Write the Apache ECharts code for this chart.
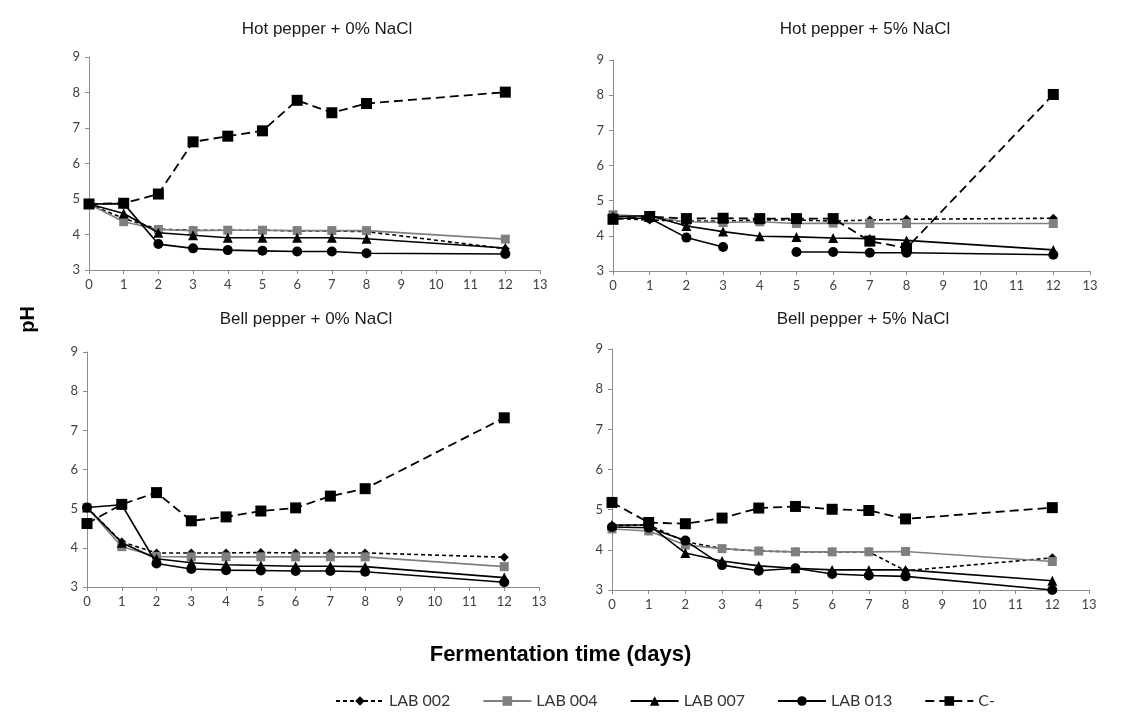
<!DOCTYPE html>
<html>
<head>
<meta charset="utf-8">
<title>pH during fermentation</title>
<script src="https://cdn.jsdelivr.net/npm/echarts@6.0.0/dist/echarts.min.js"></script>
<style>
  html, body { margin: 0; padding: 0; background: #ffffff; }
  #chart { width: 1121px; height: 725px; }
</style>
</head>
<body>
<div id="chart"></div>
<script>
// Sampling days
const days = [0, 1, 2, 3, 4, 5, 6, 7, 8, 12];

// Series names (strains and control)
const seriesNames = ['LAB 002', 'LAB 004', 'LAB 007', 'LAB 013', 'C-'];

// Panel titles
const panelTitles = [
  'Hot pepper + 0% NaCl',
  'Hot pepper + 5% NaCl',
  'Bell pepper + 0% NaCl',
  'Bell pepper + 5% NaCl'
];

// Hot pepper + 0% NaCl
const hot0_lab002 = [4.86, 4.45, 4.15, 4.12, 4.12, 4.12, 4.10, 4.10, 4.08, 3.60];
const hot0_lab004 = [4.86, 4.36, 4.14, 4.11, 4.12, 4.12, 4.11, 4.11, 4.11, 3.87];
const hot0_lab007 = [4.86, 4.59, 4.05, 3.98, 3.91, 3.91, 3.91, 3.91, 3.88, 3.62];
const hot0_lab013 = [4.86, 4.87, 3.73, 3.61, 3.56, 3.54, 3.52, 3.52, 3.47, 3.45];
const hot0_ctrl   = [4.86, 4.88, 5.14, 6.61, 6.77, 6.92, 7.78, 7.43, 7.69, 8.01];

// Hot pepper + 5% NaCl (LAB 013 has no reading on day 4)
const hot5_lab002 = [4.50, 4.45, 4.42, 4.42, 4.45, 4.45, 4.42, 4.45, 4.47, 4.50];
const hot5_lab004 = [4.60, 4.55, 4.40, 4.38, 4.40, 4.35, 4.36, 4.35, 4.35, 4.35];
const hot5_lab007 = [4.55, 4.57, 4.28, 4.12, 3.99, 3.97, 3.94, 3.92, 3.87, 3.60];
const hot5_lab013 = [4.50, 4.50, 3.95, 3.68, null, 3.54, 3.54, 3.52, 3.52, 3.46];
const hot5_ctrl   = [4.47, 4.55, 4.49, 4.50, 4.49, 4.49, 4.49, 3.85, 3.65, 8.02];

// Bell pepper + 0% NaCl
const bell0_lab002 = [5.03, 4.15, 3.87, 3.87, 3.87, 3.88, 3.87, 3.87, 3.87, 3.76];
const bell0_lab004 = [5.03, 4.03, 3.78, 3.77, 3.77, 3.77, 3.77, 3.77, 3.77, 3.52];
const bell0_lab007 = [5.03, 4.13, 3.72, 3.62, 3.57, 3.55, 3.53, 3.53, 3.52, 3.24];
const bell0_lab013 = [5.03, 5.10, 3.60, 3.46, 3.43, 3.42, 3.41, 3.41, 3.39, 3.12];
const bell0_ctrl   = [4.62, 5.11, 5.41, 4.69, 4.79, 4.94, 5.02, 5.32, 5.51, 7.32];

// Bell pepper + 5% NaCl
const bell5_lab002 = [4.60, 4.62, 4.20, 4.03, 3.97, 3.95, 3.95, 3.95, 3.48, 3.80];
const bell5_lab004 = [4.52, 4.47, 4.12, 4.03, 3.97, 3.95, 3.95, 3.95, 3.96, 3.71];
const bell5_lab007 = [4.62, 4.62, 3.92, 3.72, 3.60, 3.54, 3.50, 3.50, 3.50, 3.23];
const bell5_lab013 = [4.57, 4.55, 4.23, 3.62, 3.48, 3.54, 3.40, 3.36, 3.34, 3.00];
const bell5_ctrl   = [5.18, 4.68, 4.65, 4.79, 5.04, 5.08, 5.01, 4.98, 4.77, 5.05];

const panels = [
  [hot0_lab002, hot0_lab004, hot0_lab007, hot0_lab013, hot0_ctrl],
  [hot5_lab002, hot5_lab004, hot5_lab007, hot5_lab013, hot5_ctrl],
  [bell0_lab002, bell0_lab004, bell0_lab007, bell0_lab013, bell0_ctrl],
  [bell5_lab002, bell5_lab004, bell5_lab007, bell5_lab013, bell5_ctrl]
];

// Plot areas of the four panels
const grids = [
  { left: 89,  top: 57,  width: 451, height: 213 },
  { left: 613, top: 60,  width: 477, height: 211 },
  { left: 87,  top: 352, width: 452, height: 235 },
  { left: 612, top: 349, width: 477, height: 241 }
];

// Marker and line look per series
const styles = [
  { symbol: 'diamond',  size: 9,  color: '#000000', type: [4, 3],  width: 1.6 },
  { symbol: 'rect',     size: 9,  color: '#7f7f7f', type: 'solid', width: 1.6 },
  { symbol: 'triangle', size: 10, color: '#000000', type: 'solid', width: 1.6 },
  { symbol: 'circle',   size: 10, color: '#000000', type: 'solid', width: 1.6 },
  { symbol: 'rect',     size: 11, color: '#000000', type: [9, 5],  width: 1.8 }
];

const axisColor = '#8c8c8c';
const tickFont = { color: '#404040', fontFamily: 'Lato', fontSize: 13 };

const xAxes = grids.map((g, i) => ({
  type: 'value', gridIndex: i, min: 0, max: 13, interval: 1,
  axisLine: { show: true, lineStyle: { color: axisColor, width: 1 } },
  axisTick: { show: true, length: 4, lineStyle: { color: axisColor } },
  axisLabel: Object.assign({ margin: 8 }, tickFont),
  splitLine: { show: false }
}));

const yAxes = grids.map((g, i) => ({
  type: 'value', gridIndex: i, min: 3, max: 9, interval: 1,
  axisLine: { show: true, lineStyle: { color: axisColor, width: 1 } },
  axisTick: { show: true, length: 4, lineStyle: { color: axisColor } },
  axisLabel: Object.assign({ margin: 9 }, tickFont),
  splitLine: { show: false }
}));

const series = [];
panels.forEach((vals, p) => {
  vals.forEach((arr, s) => {
    const st = styles[s];
    series.push({
      name: seriesNames[s],
      type: 'line',
      xAxisIndex: p,
      yAxisIndex: p,
      data: days.map((d, k) => [d, arr[k] === null ? '-' : arr[k]]),
      symbol: st.symbol,
      symbolSize: st.size,
      showAllSymbol: true,
      connectNulls: false,
      z: 2 + s,
      lineStyle: { color: st.color, width: st.width, type: st.type },
      itemStyle: { color: st.color, borderColor: st.color, borderWidth: 0 },
      emphasis: { disabled: true },
      animation: false
    });
  });
});

const titleCenters = [
  { x: 322, y: 16 },
  { x: 860, y: 16 },
  { x: 301, y: 306 },
  { x: 858, y: 306 }
];

const titles = panelTitles.map((t, i) => ({
  text: t,
  left: titleCenters[i].x,
  top: titleCenters[i].y,
  textAlign: 'center',
  textStyle: { fontFamily: 'Liberation Sans', fontSize: 17, fontWeight: 'normal', color: '#1a1a1a' }
}));

const chart = echarts.init(document.getElementById('chart'), null, { renderer: 'canvas' });
chart.setOption({
  backgroundColor: '#ffffff',
  animation: false,
  title: titles,
  grid: grids,
  xAxis: xAxes,
  yAxis: yAxes,
  series: series,
  legend: {
    data: seriesNames,
    left: 330,
    top: 688,
    itemWidth: 48,
    itemHeight: 12,
    itemGap: 32,
    textStyle: { fontFamily: 'Lato', fontSize: 16, color: '#333333' }
  },
  graphic: [
    {
      type: 'text', left: 18, top: 306, rotation: Math.PI / 2,
      style: { text: 'pH', font: 'bold 20px "Liberation Sans"', fill: '#000000' }
    },
    {
      type: 'text', left: 'center', top: 644,
      style: { text: 'Fermentation time (days)', font: 'bold 22px "Liberation Sans"', fill: '#000000' }
    }
  ]
});
</script>
</body>
</html>
